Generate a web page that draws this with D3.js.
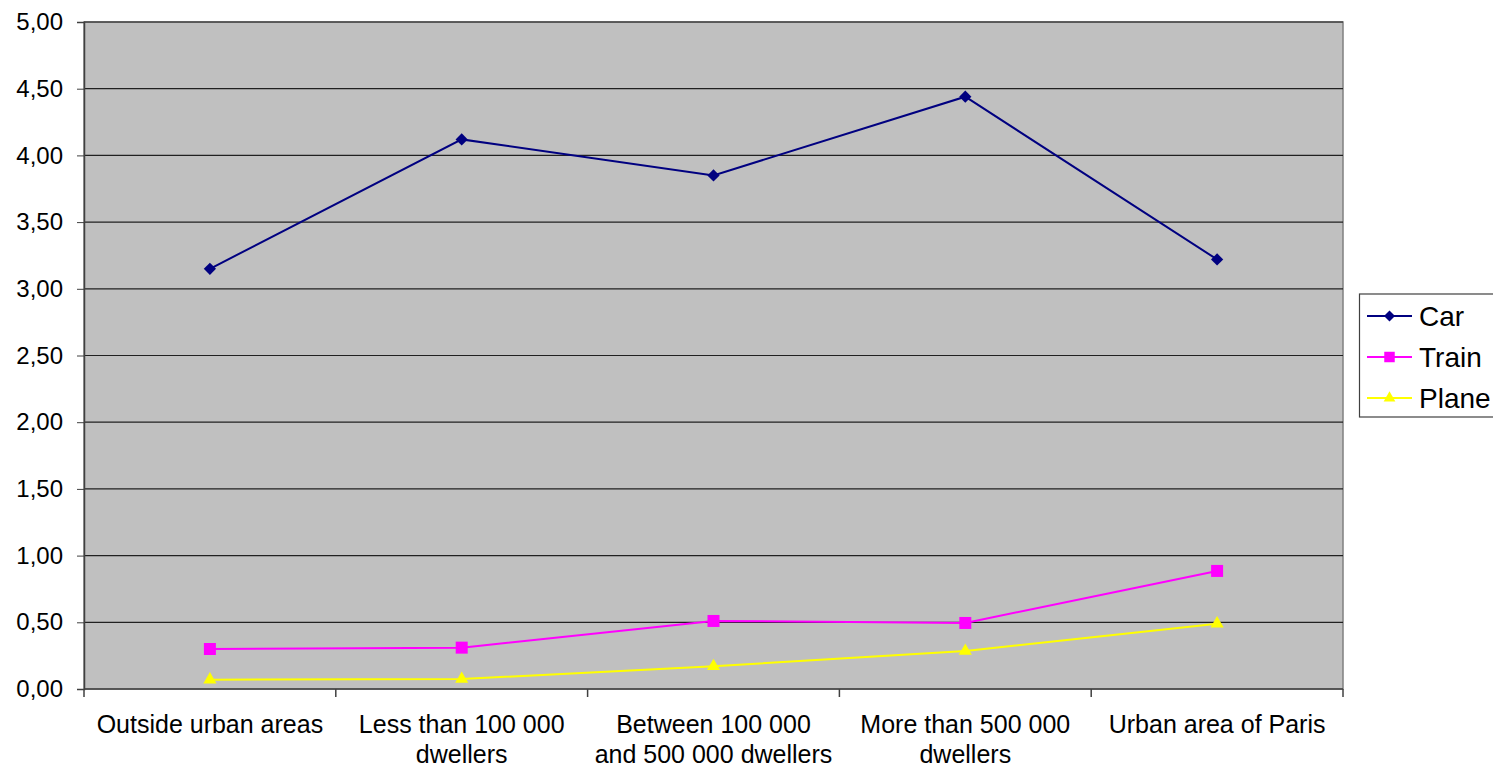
<!DOCTYPE html>
<html><head><meta charset="utf-8">
<script src="https://cdn.jsdelivr.net/npm/d3@7"></script>
<style>body{margin:0;background:#fff;}svg{display:block;font-family:"Liberation Sans",Arial,sans-serif;}</style>
</head><body>
<script>
const categories = [["Outside urban areas"],["Less than 100 000","dwellers"],["Between 100 000","and 500 000 dwellers"],["More than 500 000","dwellers"],["Urban area of Paris"]];
const carValues = [3.15, 4.12, 3.85, 4.44, 3.22];
const trainValues = [0.30, 0.31, 0.51, 0.495, 0.885];
const planeValues = [0.07, 0.075, 0.17, 0.285, 0.49];
const yTicks = [0,0.5,1,1.5,2,2.5,3,3.5,4,4.5,5];
const seriesNames = ["Car","Train","Plane"];

const W=1493,H=768;
const L=84,R=1343,T=22,B=689;
const svg=d3.select("body").append("svg").attr("width",W).attr("height",H);
const x=d3.scaleBand().domain(d3.range(categories.length)).range([L,R]).padding(0);
const y=d3.scaleLinear().domain([0,5]).range([B,T]);

svg.append("rect").attr("x",L).attr("y",T).attr("width",R-L).attr("height",B-T).attr("fill","#c0c0c0").attr("stroke","#808080").attr("stroke-width",1.5);
svg.append("g").selectAll("line").data(yTicks.filter(d=>d>0)).join("line")
 .attr("x1",L).attr("x2",R).attr("y1",d=>y(d)).attr("y2",d=>y(d)).attr("stroke","#202020").attr("stroke-width",1.2);

const ya=svg.append("g").attr("transform",`translate(${L},0)`).call(d3.axisLeft(y).tickValues(yTicks).tickSize(7).tickPadding(14).tickFormat(d=>d3.format(".2f")(d).replace(".",",")));
ya.select(".domain").attr("stroke","#404040").attr("stroke-width",1.5);
ya.selectAll(".tick line").attr("stroke","#404040");
ya.selectAll("text").attr("font-size",24).attr("fill","#000").attr("font-family","Liberation Sans, Arial, sans-serif");

const xa=svg.append("g").attr("transform",`translate(0,${B})`);
xa.append("line").attr("x1",L).attr("x2",R).attr("y1",0).attr("y2",0).attr("stroke","#404040").attr("stroke-width",1.5);
const bounds=d3.range(categories.length+1).map(i=>i<categories.length?x(i):x(categories.length-1)+x.bandwidth());
xa.selectAll("line.t").data(bounds).join("line").attr("class","t").attr("x1",d=>d).attr("x2",d=>d).attr("y1",0).attr("y2",8).attr("stroke","#404040").attr("stroke-width",1.5);
const cx=i=>x(i)+x.bandwidth()/2;
categories.forEach((lines,i)=>{
  const t=xa.append("text").attr("x",cx(i)).attr("y",44).attr("text-anchor","middle").attr("font-size",25).attr("fill","#000");
  lines.forEach((s,j)=>t.append("tspan").attr("x",cx(i)).attr("dy",j?30:0).text(s));
});

const colors=["#000080","#ff00ff","#ffff00"];
const data=[carValues,trainValues,planeValues];
const line=d3.line().x((d,i)=>cx(i)).y(d=>y(d));
const sym=[d3.symbolSquare,d3.symbolSquare,d3.symbolTriangle];
const sizes=[75,144,75];
const rot=[45,0,0];
data.forEach((vals,k)=>{
  svg.append("path").datum(vals).attr("d",line).attr("fill","none").attr("stroke",colors[k]).attr("stroke-width",2);
  svg.append("g").selectAll("path").data(vals).join("path")
   .attr("transform",(d,i)=>`translate(${cx(i)},${y(d)}) rotate(${rot[k]})`)
   .attr("d",d3.symbol().type(sym[k]).size(sizes[k])).attr("fill",colors[k]);
});

const lg=svg.append("g");
lg.append("rect").attr("x",1359.5).attr("y",294).attr("width",150).attr("height",123).attr("fill","#fff").attr("stroke","#404040").attr("stroke-width",1.2);
seriesNames.forEach((n,k)=>{
  const yy=316+k*41;
  lg.append("line").attr("x1",1367).attr("x2",1412).attr("y1",yy).attr("y2",yy).attr("stroke",colors[k]).attr("stroke-width",2);
  lg.append("path").attr("transform",`translate(1389.5,${yy}) rotate(${rot[k]})`).attr("d",d3.symbol().type(sym[k]).size(k===1?110:sizes[k]*0.8)).attr("fill",colors[k]);
  lg.append("text").attr("x",1419).attr("y",yy+10).attr("font-size",28).attr("fill","#000").text(n);
});
</script>
</body></html>
